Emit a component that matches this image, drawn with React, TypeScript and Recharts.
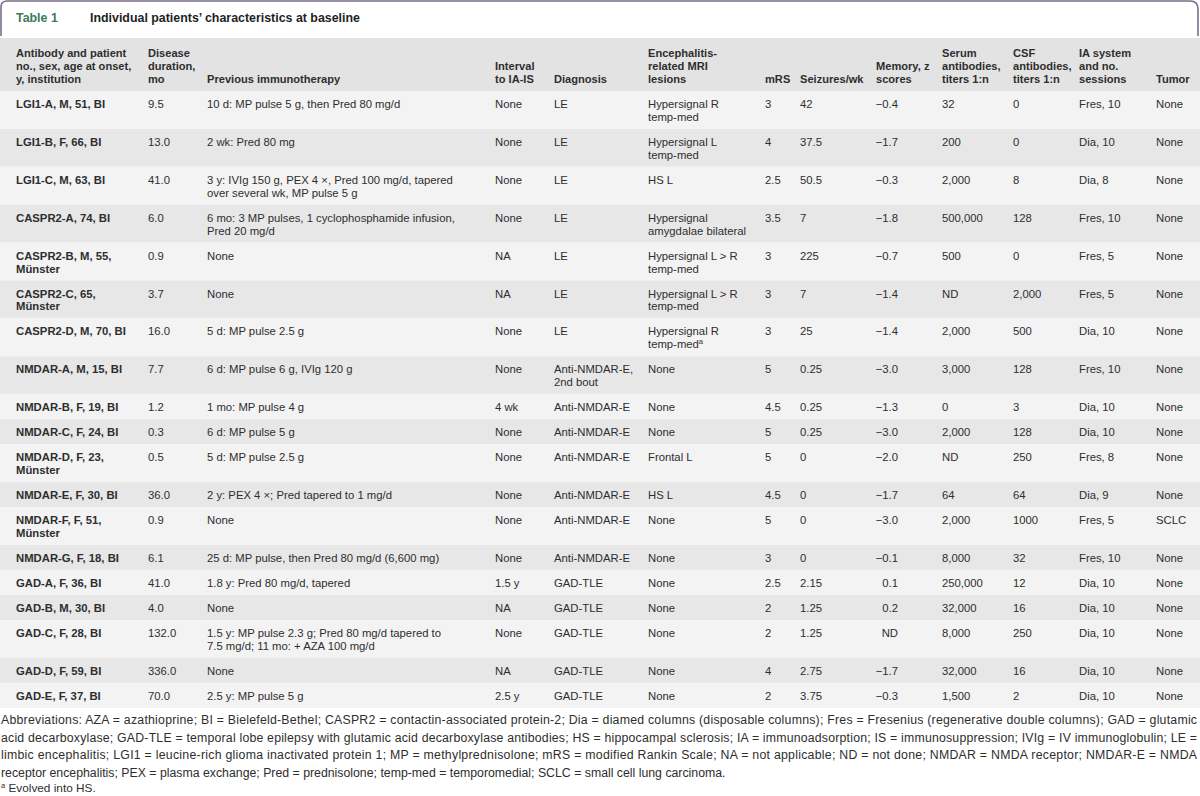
import React from 'react';
import { Surface, Layer } from 'recharts';

// Table 1 columns, one array per column (line breaks as printed)
const headers = [
  'Antibody and patient\nno., sex, age at onset,\ny, institution',
  'Disease\nduration,\nmo',
  'Previous immunotherapy',
  'Interval\nto IA-IS',
  'Diagnosis',
  'Encephalitis-\nrelated MRI\nlesions',
  'mRS',
  'Seizures/wk',
  'Memory, z\nscores',
  'Serum\nantibodies,\ntiters 1:n',
  'CSF\nantibodies,\ntiters 1:n',
  'IA system\nand no.\nsessions',
  'Tumor',
];

const patients = [
  'LGI1-A, M, 51, BI', 'LGI1-B, F, 66, BI', 'LGI1-C, M, 63, BI', 'CASPR2-A, 74, BI',
  'CASPR2-B, M, 55,\nMünster', 'CASPR2-C, 65,\nMünster', 'CASPR2-D, M, 70, BI',
  'NMDAR-A, M, 15, BI', 'NMDAR-B, F, 19, BI', 'NMDAR-C, F, 24, BI', 'NMDAR-D, F, 23,\nMünster',
  'NMDAR-E, F, 30, BI', 'NMDAR-F, F, 51,\nMünster', 'NMDAR-G, F, 18, BI',
  'GAD-A, F, 36, BI', 'GAD-B, M, 30, BI', 'GAD-C, F, 28, BI', 'GAD-D, F, 59, BI', 'GAD-E, F, 37, BI',
];

const duration = ['9.5', '13.0', '41.0', '6.0', '0.9', '3.7', '16.0', '7.7', '1.2', '0.3', '0.5', '36.0', '0.9', '6.1', '41.0', '4.0', '132.0', '336.0', '70.0'];

const immunotherapy = [
  '10 d: MP pulse 5 g, then Pred 80 mg/d',
  '2 wk: Pred 80 mg',
  '3 y: IVIg 150 g, PEX 4 \u00d7, Pred 100 mg/d, tapered\nover several wk, MP pulse 5 g',
  '6 mo: 3 MP pulses, 1 cyclophosphamide infusion,\nPred 20 mg/d',
  'None',
  'None',
  '5 d: MP pulse 2.5 g',
  '6 d: MP pulse 6 g, IVIg 120 g',
  '1 mo: MP pulse 4 g',
  '6 d: MP pulse 5 g',
  '5 d: MP pulse 2.5 g',
  '2 y: PEX 4 \u00d7; Pred tapered to 1 mg/d',
  'None',
  '25 d: MP pulse, then Pred 80 mg/d (6,600 mg)',
  '1.8 y: Pred 80 mg/d, tapered',
  'None',
  '1.5 y: MP pulse 2.3 g; Pred 80 mg/d tapered to\n7.5 mg/d; 11 mo: + AZA 100 mg/d',
  'None',
  '2.5 y: MP pulse 5 g',
];

const interval = ['None', 'None', 'None', 'None', 'NA', 'NA', 'None', 'None', '4 wk', 'None', 'None', 'None', 'None', 'None', '1.5 y', 'NA', 'None', 'NA', '2.5 y'];

const diagnosis = [
  'LE', 'LE', 'LE', 'LE', 'LE', 'LE', 'LE',
  'Anti-NMDAR-E,\n2nd bout', 'Anti-NMDAR-E', 'Anti-NMDAR-E', 'Anti-NMDAR-E', 'Anti-NMDAR-E', 'Anti-NMDAR-E', 'Anti-NMDAR-E',
  'GAD-TLE', 'GAD-TLE', 'GAD-TLE', 'GAD-TLE', 'GAD-TLE',
];

const mriLesions = [
  'Hypersignal R\ntemp-med', 'Hypersignal L\ntemp-med', 'HS L', 'Hypersignal\namygdalae bilateral',
  'Hypersignal L > R\ntemp-med', 'Hypersignal L > R\ntemp-med', 'Hypersignal R\ntemp-med^a',
  'None', 'None', 'None', 'Frontal L', 'HS L', 'None', 'None',
  'None', 'None', 'None', 'None', 'None',
];

const mrs = ['3', '4', '2.5', '3.5', '3', '3', '3', '5', '4.5', '5', '5', '4.5', '5', '3', '2.5', '2', '2', '4', '2'];
const seizures = ['42', '37.5', '50.5', '7', '225', '7', '25', '0.25', '0.25', '0.25', '0', '0', '0', '0', '2.15', '1.25', '1.25', '2.75', '3.75'];
const memory = ['\u22120.4', '\u22121.7', '\u22120.3', '\u22121.8', '\u22120.7', '\u22121.4', '\u22121.4', '\u22123.0', '\u22121.3', '\u22123.0', '\u22122.0', '\u22121.7', '\u22123.0', '\u22120.1', '0.1', '0.2', 'ND', '\u22121.7', '\u22120.3'];
const serum = ['32', '200', '2,000', '500,000', '500', 'ND', '2,000', '3,000', '0', '2,000', 'ND', '64', '2,000', '8,000', '250,000', '32,000', '8,000', '32,000', '1,500'];
const csf = ['0', '0', '8', '128', '0', '2,000', '500', '128', '3', '128', '250', '64', '1000', '32', '12', '16', '250', '16', '2'];
const iaSystem = ['Fres, 10', 'Dia, 10', 'Dia, 8', 'Fres, 10', 'Fres, 5', 'Fres, 5', 'Dia, 10', 'Fres, 10', 'Dia, 10', 'Dia, 10', 'Fres, 8', 'Dia, 9', 'Fres, 5', 'Fres, 10', 'Dia, 10', 'Dia, 10', 'Dia, 10', 'Dia, 10', 'Dia, 10'];
const tumor = ['None', 'None', 'None', 'None', 'None', 'None', 'None', 'None', 'None', 'None', 'None', 'None', 'SCLC', 'None', 'None', 'None', 'None', 'None', 'None'];

const footnotes = [
  'Abbreviations: AZA = azathioprine; BI = Bielefeld-Bethel; CASPR2 = contactin-associated protein-2; Dia = diamed columns (disposable columns); Fres = Fresenius (regenerative double columns); GAD = glutamic',
  'acid decarboxylase; GAD-TLE = temporal lobe epilepsy with glutamic acid decarboxylase antibodies; HS = hippocampal sclerosis; IA = immunoadsorption; IS = immunosuppression; IVIg = IV immunoglobulin; LE =',
  'limbic encephalitis; LGI1 = leucine-rich glioma inactivated protein 1; MP = methylprednisolone; mRS = modified Rankin Scale; NA = not applicable; ND = not done; NMDAR = NMDA receptor; NMDAR-E = NMDA',
  'receptor encephalitis; PEX = plasma exchange; Pred = prednisolone; temp-med = temporomedial; SCLC = small cell lung carcinoma.',
];
const footnoteA = 'Evolved into HS.';

const columns = [patients, duration, immunotherapy, interval, diagnosis, mriLesions, mrs, seizures, memory, serum, csf, iaSystem, tumor];

const W = 1200;
const H = 796;
const FONT = '"Liberation Sans", Arial, sans-serif';
const TEXT = '#2e2e2e';
const colX = [16, 148, 207, 495, 554, 648, 765, 800, 876, 942, 1013, 1079, 1156];
const memoryRight = 898;
const headTop = 38;
const headBottom = 91;
const lineH = 12.9;

function CellText({ x, y, value, bold, anchor = 'start', size = 11.3 }: any) {
  const lines = value.split('\n');
  return (
    <text x={x} y={y} fontFamily={FONT} fontSize={size} fontWeight={bold ? 700 : 400} fill={TEXT} textAnchor={anchor}>
      {lines.map((ln: string, i: number) => {
        const sup = ln.endsWith('^a');
        const t = sup ? ln.slice(0, -2) : ln;
        return (
          <tspan key={i} x={x} y={y + i * lineH}>
            {t}
            {sup && (
              <tspan fontSize={7.5} dy={-4}>a</tspan>
            )}
          </tspan>
        );
      })}
    </text>
  );
}

export default function App() {
  // row heights follow the tallest cell in each row
  const rows: { top: number; h: number }[] = [];
  let y = headBottom;
  for (let r = 0; r < patients.length; r++) {
    const n = Math.max(...columns.map((c) => c[r].split('\n').length));
    const h = 25 + (n - 1) * lineH;
    rows.push({ top: y, h });
    y += h;
  }
  const tableBottom = y;
  const fnStart = tableBottom + 16.3;
  const fnStep = 17.6;

  return (
    <div style={{ position: 'absolute', left: 0, top: 0, width: W, height: H, background: '#fff' }}>
      <Surface width={W} height={H} viewBox={{ x: 0, y: 0, width: W, height: H }}>
        <Layer>
          <path
            d={`M1,36 L1,7 Q1,1 7,1 L1190,1 Q1198,1 1198,9 L1198,36`}
            fill="none"
            stroke="#7b6b8c"
            strokeWidth={1.6}
          />
          <text x={16} y={21.5} fontFamily={FONT} fontSize={12.4} fontWeight={700} fill="#3d7a57">Table 1</text>
          <text x={90} y={21.5} fontFamily={FONT} fontSize={12.4} fontWeight={700} fill="#1f1f1f">
            Individual patients’ characteristics at baseline
          </text>
        </Layer>
        <Layer>
          <rect x={0} y={headTop} width={W} height={headBottom - headTop} fill="#e3e3e3" />
          {headers.map((hd, i) => {
            const n = hd.split('\n').length;
            return <CellText key={i} x={colX[i]} y={83 - (n - 1) * lineH} value={hd} bold size={11.1} />;
          })}
        </Layer>
        <Layer>
          {rows.map((rw, r) => (
            <g key={r}>
              <rect x={0} y={rw.top} width={W} height={rw.h} fill={r % 2 === 0 ? '#f3f3f3' : '#e7e7e7'} />
              {columns.map((col, c) =>
                c === 8 ? (
                  <CellText key={c} x={memoryRight} y={rw.top + 17} value={col[r]} anchor="end" />
                ) : (
                  <CellText key={c} x={colX[c]} y={rw.top + 17} value={col[r]} bold={c === 0} />
                ),
              )}
            </g>
          ))}
        </Layer>
        <Layer>
          {footnotes.map((ln, i) => (
            <text
              key={i}
              x={1}
              y={fnStart + i * fnStep}
              fontFamily={FONT}
              fontSize={12.3}
              fill={TEXT}
              {...(i < footnotes.length - 1 ? { textLength: 1196, lengthAdjust: 'spacing' } : {})}
            >
              {ln}
            </text>
          ))}
          <text x={1} y={791.5} fontFamily={FONT} fontSize={11.8} fill={TEXT}>
            <tspan fontSize={7.5} dy={-4}>a</tspan>
            <tspan dy={4}> {footnoteA}</tspan>
          </text>
        </Layer>
      </Surface>
    </div>
  );
}
